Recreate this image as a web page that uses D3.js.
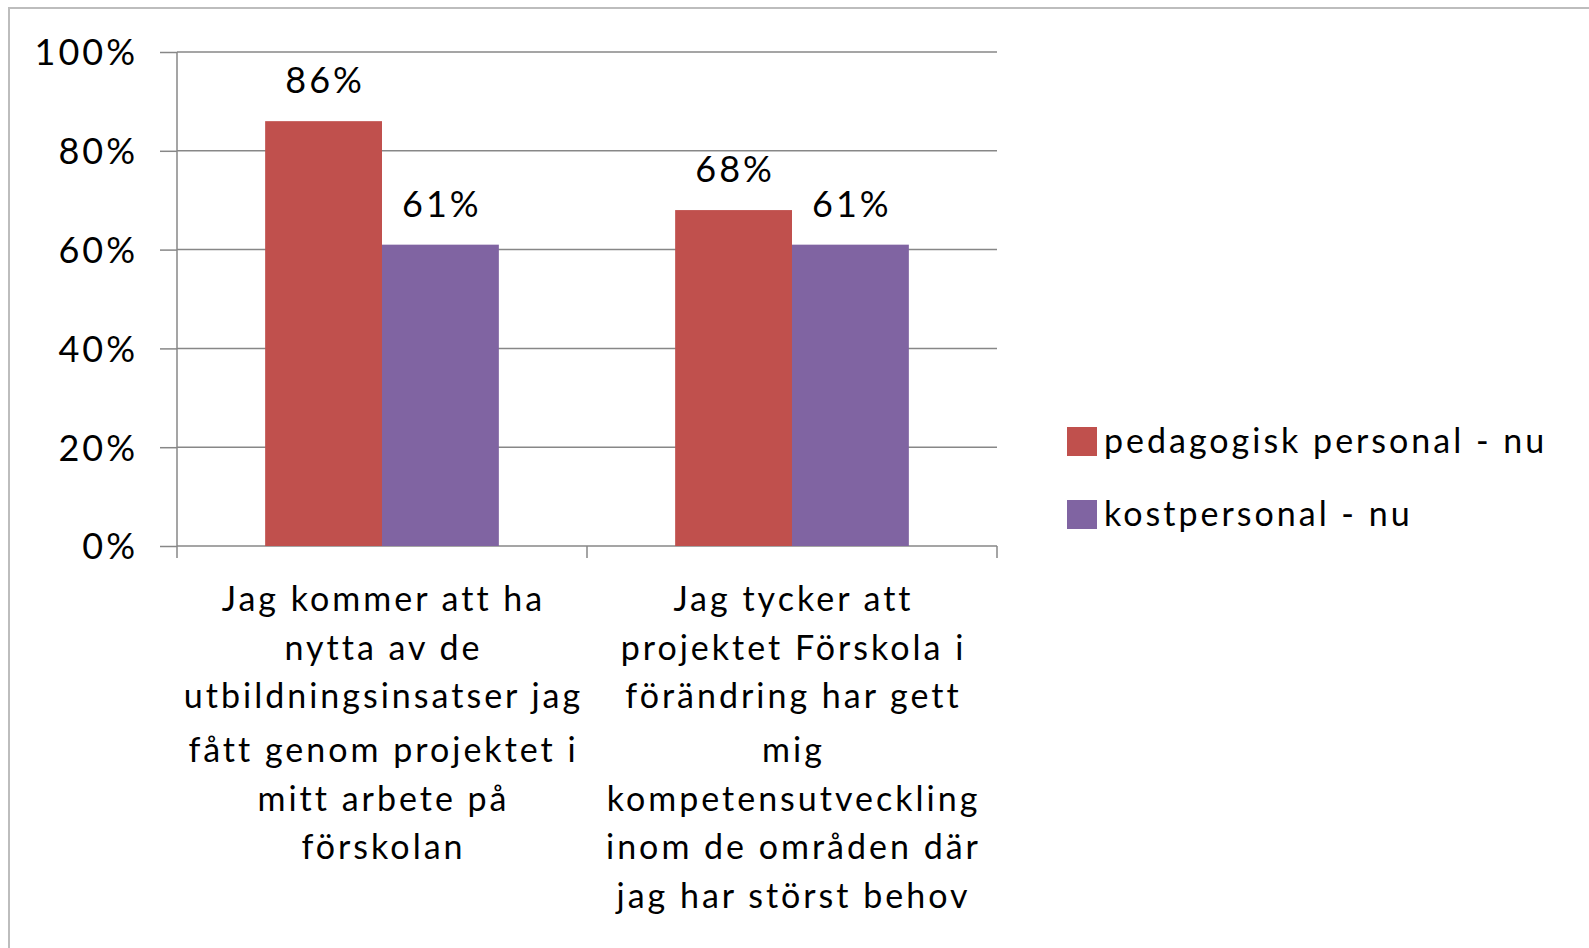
<!DOCTYPE html>
<html>
<head>
<meta charset="utf-8">
<script src="https://cdn.jsdelivr.net/npm/d3@7"></script>
<style>
  body { margin: 0; background: #fff; }
  svg { display: block; font-family: Lato, "Open Sans", sans-serif; letter-spacing: 3px; }
</style>
</head>
<body>
<svg id="chart" width="1589" height="948"></svg>
<script>
var categories = ['q1', 'q2'];
var categoryLines = [
    ['Jag kommer  att ha', 'nytta av de', 'utbildningsinsatser  jag', 'fått genom projektet i', 'mitt arbete på', 'förskolan'],
    ['Jag tycker att', 'projektet Förskola i', 'förändring har gett', 'mig', 'kompetensutveckling', 'inom de områden  där', 'jag har störst behov']
];
var seriesNames = ['pedagogisk personal - nu', 'kostpersonal - nu'];
var pedagogisk = [0.86, 0.68];
var kost = [0.61, 0.61];
var yTicks = [0, 0.2, 0.4, 0.6, 0.8, 1];
var colors = ['#C0504D', '#8064A2'];

var svg = d3.select('#chart');
var plotLeft = 177, plotRight = 997, plotTop = 52, plotBottom = 546;
// line offsets of the wrapped category labels (excel spacing is a bit uneven)
var lineOffsets = [0, 49, 97, 151, 200, 248, 297];

// chart frame
svg.append('rect')
    .attr('x', 9).attr('y', 8)
    .attr('width', 1620).attr('height', 980)
    .attr('fill', 'none')
    .attr('stroke', '#bdbdbd')
    .attr('stroke-width', 2);

var x0 = d3.scaleBand()
    .domain(categories)
    .range([plotLeft, plotRight])
    .paddingInner(0.43)
    .paddingOuter(0.215);

var x1 = d3.scaleBand()
    .domain([0, 1])
    .range([0, x0.bandwidth()]);

var y = d3.scaleLinear()
    .domain([0, 1])
    .range([plotBottom, plotTop]);

// gridlines
svg.append('g')
    .selectAll('line')
    .data(yTicks)
    .join('line')
    .attr('x1', plotLeft).attr('x2', plotRight)
    .attr('y1', d => y(d)).attr('y2', d => y(d))
    .attr('stroke', '#878787')
    .attr('stroke-width', 1.5);

// y ticks
var yAxis = svg.append('g')
    .attr('transform', 'translate(' + plotLeft + ',0)')
    .call(d3.axisLeft(y).tickValues(yTicks).tickFormat(d3.format('.0%'))
        .tickSize(17).tickPadding(22));
yAxis.select('.domain').remove();
yAxis.selectAll('.tick line').attr('stroke', '#878787').attr('stroke-width', 1.5);
yAxis.selectAll('.tick text')
    .attr('fill', '#000')
    .style('font-family', 'Lato, sans-serif')
    .style('font-size', '36px')
    .attr('dy', '0.36em');

// bars
var rows = categories.map((c, i) => ({cat: c, vals: [pedagogisk[i], kost[i]]}));
var groups = svg.append('g')
    .selectAll('g')
    .data(rows)
    .join('g')
    .attr('transform', d => 'translate(' + x0(d.cat) + ',0)');

groups.selectAll('rect')
    .data(d => d.vals.map((v, k) => ({k: k, v: v})))
    .join('rect')
    .attr('x', d => x1(d.k))
    .attr('y', d => y(d.v))
    .attr('width', x1.bandwidth())
    .attr('height', d => y(0) - y(d.v))
    .attr('fill', d => colors[d.k]);

groups.selectAll('text')
    .data(d => d.vals.map((v, k) => ({k: k, v: v})))
    .join('text')
    .attr('x', d => x1(d.k) + x1.bandwidth() / 2 + 1.5)
    .attr('y', d => y(d.v) - 28)
    .attr('text-anchor', 'middle')
    .style('font-size', '36px')
    .text(d => d3.format('.0%')(d.v));

// axis lines
svg.append('line')
    .attr('x1', plotLeft).attr('x2', plotLeft)
    .attr('y1', plotTop).attr('y2', plotBottom)
    .attr('stroke', '#878787').attr('stroke-width', 1.5);

var xAxis = svg.append('g')
    .attr('transform', 'translate(0,' + plotBottom + ')');
var step = x0.step();
xAxis.selectAll('line.tk')
    .data(d3.range(categories.length + 1))
    .join('line')
    .attr('class', 'tk')
    .attr('x1', i => plotLeft + i * step).attr('x2', i => plotLeft + i * step)
    .attr('y1', 0).attr('y2', 12)
    .attr('stroke', '#878787').attr('stroke-width', 1.5);

// category labels
categories.forEach((c, i) => {
    var cx = x0(c) + x0.bandwidth() / 2 + 1.5;
    svg.append('text')
        .attr('text-anchor', 'middle')
        .style('font-size', '34px')
        .selectAll('tspan')
        .data(categoryLines[i])
        .join('tspan')
        .attr('x', cx)
        .attr('y', (d, j) => 611 + lineOffsets[j])
        .text(d => d);
});

// legend
var legend = svg.append('g')
    .selectAll('g')
    .data(seriesNames)
    .join('g')
    .attr('transform', (d, i) => 'translate(1067,' + (427 + i * 73) + ')');
legend.append('rect')
    .attr('width', 30).attr('height', 29)
    .attr('fill', (d, i) => colors[i]);
legend.append('text')
    .attr('x', 37).attr('y', 26)
    .style('font-size', '34px')
    .text(d => d);
</script>
</body>
</html>
